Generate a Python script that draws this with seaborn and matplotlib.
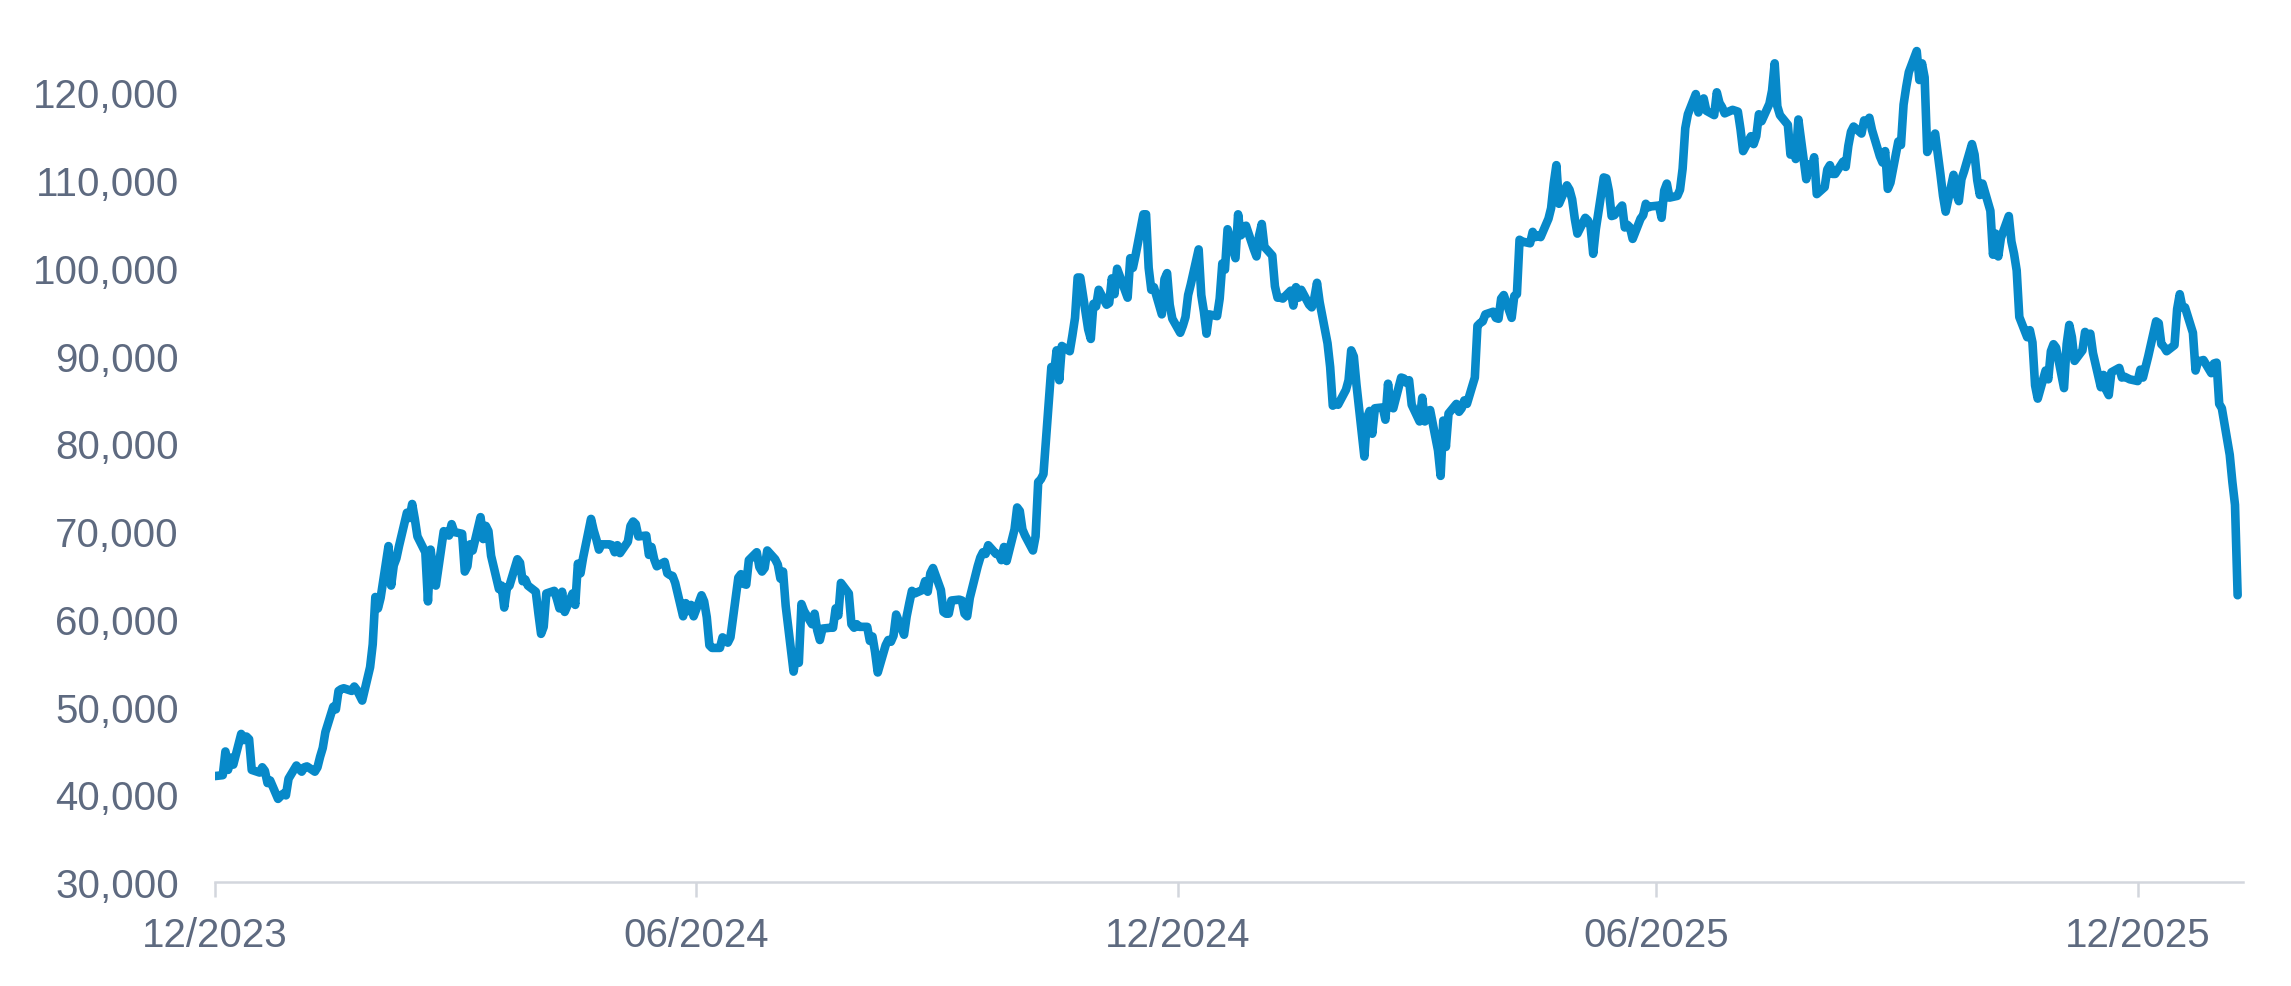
import pandas as pd
import matplotlib.pyplot as plt
import matplotlib.ticker as mticker
import seaborn as sns

# price series (USD)
dates = [
    '2023-12-29',
    '2024-01-01', '2024-01-02', '2024-01-03', '2024-01-04', '2024-01-05', '2024-01-08', '2024-01-09', '2024-01-10',
    '2024-01-11', '2024-01-12', '2024-01-15', '2024-01-16', '2024-01-17', '2024-01-18', '2024-01-19', '2024-01-22',
    '2024-01-23', '2024-01-24', '2024-01-25', '2024-01-26', '2024-01-29', '2024-01-30', '2024-01-31', '2024-02-01',
    '2024-02-02', '2024-02-05', '2024-02-06', '2024-02-07', '2024-02-08', '2024-02-09', '2024-02-12', '2024-02-13',
    '2024-02-14', '2024-02-15', '2024-02-16', '2024-02-19', '2024-02-20', '2024-02-21', '2024-02-22', '2024-02-23',
    '2024-02-26', '2024-02-27', '2024-02-28', '2024-02-29', '2024-03-01', '2024-03-04', '2024-03-05', '2024-03-06',
    '2024-03-07', '2024-03-08', '2024-03-11', '2024-03-12', '2024-03-13', '2024-03-14', '2024-03-15', '2024-03-18',
    '2024-03-19', '2024-03-20', '2024-03-21', '2024-03-22', '2024-03-25', '2024-03-26', '2024-03-27', '2024-03-28',
    '2024-03-29', '2024-04-01', '2024-04-02', '2024-04-03', '2024-04-04', '2024-04-05', '2024-04-08', '2024-04-09',
    '2024-04-10', '2024-04-11', '2024-04-12', '2024-04-15', '2024-04-16', '2024-04-17', '2024-04-18', '2024-04-19',
    '2024-04-22', '2024-04-23', '2024-04-24', '2024-04-25', '2024-04-26', '2024-04-29', '2024-04-30', '2024-05-01',
    '2024-05-02', '2024-05-03', '2024-05-06', '2024-05-07', '2024-05-08', '2024-05-09', '2024-05-10', '2024-05-13',
    '2024-05-14', '2024-05-15', '2024-05-16', '2024-05-17', '2024-05-20', '2024-05-21', '2024-05-22', '2024-05-23',
    '2024-05-24', '2024-05-27', '2024-05-28', '2024-05-29', '2024-05-30', '2024-05-31', '2024-06-03', '2024-06-04',
    '2024-06-05', '2024-06-06', '2024-06-07', '2024-06-10', '2024-06-11', '2024-06-12', '2024-06-13', '2024-06-14',
    '2024-06-17', '2024-06-18', '2024-06-19', '2024-06-20', '2024-06-21', '2024-06-24', '2024-06-25', '2024-06-26',
    '2024-06-27', '2024-06-28', '2024-07-01', '2024-07-02', '2024-07-03', '2024-07-04', '2024-07-05', '2024-07-08',
    '2024-07-09', '2024-07-10', '2024-07-11', '2024-07-12', '2024-07-15', '2024-07-16', '2024-07-17', '2024-07-18',
    '2024-07-19', '2024-07-22', '2024-07-23', '2024-07-24', '2024-07-25', '2024-07-26', '2024-07-29', '2024-07-30',
    '2024-07-31', '2024-08-01', '2024-08-02', '2024-08-05', '2024-08-06', '2024-08-07', '2024-08-08', '2024-08-09',
    '2024-08-12', '2024-08-13', '2024-08-14', '2024-08-15', '2024-08-16', '2024-08-19', '2024-08-20', '2024-08-21',
    '2024-08-22', '2024-08-23', '2024-08-26', '2024-08-27', '2024-08-28', '2024-08-29', '2024-08-30', '2024-09-02',
    '2024-09-03', '2024-09-04', '2024-09-05', '2024-09-06', '2024-09-09', '2024-09-10', '2024-09-11', '2024-09-12',
    '2024-09-13', '2024-09-16', '2024-09-17', '2024-09-18', '2024-09-19', '2024-09-20', '2024-09-23', '2024-09-24',
    '2024-09-25', '2024-09-26', '2024-09-27', '2024-09-30', '2024-10-01', '2024-10-02', '2024-10-03', '2024-10-04',
    '2024-10-07', '2024-10-08', '2024-10-09', '2024-10-10', '2024-10-11', '2024-10-14', '2024-10-15', '2024-10-16',
    '2024-10-17', '2024-10-18', '2024-10-21', '2024-10-22', '2024-10-23', '2024-10-24', '2024-10-25', '2024-10-28',
    '2024-10-29', '2024-10-30', '2024-10-31', '2024-11-01', '2024-11-04', '2024-11-05', '2024-11-06', '2024-11-07',
    '2024-11-08', '2024-11-11', '2024-11-12', '2024-11-13', '2024-11-14', '2024-11-15', '2024-11-18', '2024-11-19',
    '2024-11-20', '2024-11-21', '2024-11-22', '2024-11-25', '2024-11-26', '2024-11-27', '2024-11-28', '2024-11-29',
    '2024-12-02', '2024-12-03', '2024-12-04', '2024-12-05', '2024-12-06', '2024-12-09', '2024-12-10', '2024-12-11',
    '2024-12-12', '2024-12-13', '2024-12-16', '2024-12-17', '2024-12-18', '2024-12-19', '2024-12-20', '2024-12-23',
    '2024-12-24', '2024-12-25', '2024-12-26', '2024-12-27', '2024-12-30', '2024-12-31', '2025-01-01', '2025-01-02',
    '2025-01-03', '2025-01-06', '2025-01-07', '2025-01-08', '2025-01-09', '2025-01-10', '2025-01-13', '2025-01-14',
    '2025-01-15', '2025-01-16', '2025-01-17', '2025-01-20', '2025-01-21', '2025-01-22', '2025-01-23', '2025-01-24',
    '2025-01-27', '2025-01-28', '2025-01-29', '2025-01-30', '2025-01-31', '2025-02-03', '2025-02-04', '2025-02-05',
    '2025-02-06', '2025-02-07', '2025-02-10', '2025-02-11', '2025-02-12', '2025-02-13', '2025-02-14', '2025-02-17',
    '2025-02-18', '2025-02-19', '2025-02-20', '2025-02-21', '2025-02-24', '2025-02-25', '2025-02-26', '2025-02-27',
    '2025-02-28', '2025-03-03', '2025-03-04', '2025-03-05', '2025-03-06', '2025-03-07', '2025-03-10', '2025-03-11',
    '2025-03-12', '2025-03-13', '2025-03-14', '2025-03-17', '2025-03-18', '2025-03-19', '2025-03-20', '2025-03-21',
    '2025-03-24', '2025-03-25', '2025-03-26', '2025-03-27', '2025-03-28', '2025-03-31', '2025-04-01', '2025-04-02',
    '2025-04-03', '2025-04-04', '2025-04-07', '2025-04-08', '2025-04-09', '2025-04-10', '2025-04-11', '2025-04-14',
    '2025-04-15', '2025-04-16', '2025-04-17', '2025-04-18', '2025-04-21', '2025-04-22', '2025-04-23', '2025-04-24',
    '2025-04-25', '2025-04-28', '2025-04-29', '2025-04-30', '2025-05-01', '2025-05-02', '2025-05-05', '2025-05-06',
    '2025-05-07', '2025-05-08', '2025-05-09', '2025-05-12', '2025-05-13', '2025-05-14', '2025-05-15', '2025-05-16',
    '2025-05-19', '2025-05-20', '2025-05-21', '2025-05-22', '2025-05-23', '2025-05-26', '2025-05-27', '2025-05-28',
    '2025-05-29', '2025-05-30', '2025-06-02', '2025-06-03', '2025-06-04', '2025-06-05', '2025-06-06', '2025-06-09',
    '2025-06-10', '2025-06-11', '2025-06-12', '2025-06-13', '2025-06-16', '2025-06-17', '2025-06-18', '2025-06-19',
    '2025-06-20', '2025-06-23', '2025-06-24', '2025-06-25', '2025-06-26', '2025-06-27', '2025-06-30', '2025-07-01',
    '2025-07-02', '2025-07-03', '2025-07-04', '2025-07-07', '2025-07-08', '2025-07-09', '2025-07-10', '2025-07-11',
    '2025-07-14', '2025-07-15', '2025-07-16', '2025-07-17', '2025-07-18', '2025-07-21', '2025-07-22', '2025-07-23',
    '2025-07-24', '2025-07-25', '2025-07-28', '2025-07-29', '2025-07-30', '2025-07-31', '2025-08-01', '2025-08-04',
    '2025-08-05', '2025-08-06', '2025-08-07', '2025-08-08', '2025-08-11', '2025-08-12', '2025-08-13', '2025-08-14',
    '2025-08-15', '2025-08-18', '2025-08-19', '2025-08-20', '2025-08-21', '2025-08-22', '2025-08-25', '2025-08-26',
    '2025-08-27', '2025-08-28', '2025-08-29', '2025-09-01', '2025-09-02', '2025-09-03', '2025-09-04', '2025-09-05',
    '2025-09-08', '2025-09-09', '2025-09-10', '2025-09-11', '2025-09-12', '2025-09-15', '2025-09-16', '2025-09-17',
    '2025-09-18', '2025-09-19', '2025-09-22', '2025-09-23', '2025-09-24', '2025-09-25', '2025-09-26', '2025-09-29',
    '2025-09-30', '2025-10-01', '2025-10-02', '2025-10-03', '2025-10-06', '2025-10-07', '2025-10-08', '2025-10-09',
    '2025-10-10', '2025-10-13', '2025-10-14', '2025-10-15', '2025-10-16', '2025-10-17', '2025-10-20', '2025-10-21',
    '2025-10-22', '2025-10-23', '2025-10-24', '2025-10-27', '2025-10-28', '2025-10-29', '2025-10-30', '2025-10-31',
    '2025-11-03', '2025-11-04', '2025-11-05', '2025-11-06', '2025-11-07', '2025-11-10', '2025-11-11', '2025-11-12',
    '2025-11-13', '2025-11-14', '2025-11-17', '2025-11-18', '2025-11-19', '2025-11-20', '2025-11-21', '2025-11-24',
    '2025-11-25', '2025-11-26', '2025-11-27', '2025-11-28', '2025-12-01', '2025-12-02', '2025-12-03', '2025-12-04',
    '2025-12-05', '2025-12-08', '2025-12-09', '2025-12-10', '2025-12-11', '2025-12-12', '2025-12-15', '2025-12-16',
    '2025-12-17', '2025-12-18', '2025-12-19', '2025-12-22', '2025-12-23', '2025-12-24', '2025-12-26', '2025-12-29',
    '2025-12-30', '2025-12-31', '2026-01-02', '2026-01-05', '2026-01-06', '2026-01-07', '2026-01-08', '2026-01-09',
    '2026-01-12', '2026-01-13', '2026-01-14', '2026-01-15', '2026-01-16', '2026-01-19', '2026-01-20', '2026-01-21',
    '2026-01-22', '2026-01-23', '2026-01-26', '2026-01-27', '2026-01-28', '2026-01-29', '2026-01-30', '2026-02-02',
    '2026-02-03', '2026-02-04', '2026-02-05',
]

prices = [
    42100,
    42200, 44900, 42800, 44200, 43400, 46900, 46200, 46600, 46300, 42800, 42500, 43100, 42700, 41300, 41600, 39500,
    39800, 40100, 39900, 41800, 43300, 42900, 42600, 43100, 43200, 42600, 43100, 44300, 45300, 47100, 50000, 49700,
    51800, 52000, 52100, 51800, 52300, 51900, 51300, 50700, 54500, 57100, 62500, 61200, 62400, 68300, 63800, 66100,
    66900, 68300, 72100, 71500, 73100, 71400, 69400, 67600, 62000, 67900, 65500, 63800, 70000, 69900, 69500, 70800,
    69900, 69700, 65400, 66000, 68500, 67800, 71600, 69100, 70600, 70000, 67200, 63400, 63800, 61300, 63500, 63800,
    66800, 66400, 64300, 64500, 63800, 63100, 60600, 58300, 59100, 62900, 63200, 62300, 61200, 63100, 60800, 62900,
    61600, 66300, 65200, 67000, 71400, 70100, 69100, 67900, 68500, 68500, 68400, 67600, 68400, 67500, 68800, 70600,
    71100, 70800, 69400, 69500, 67300, 68200, 66800, 66000, 66500, 65200, 65000, 64900, 64100, 60300, 61800, 60900,
    61600, 60300, 62700, 62000, 60200, 57000, 56700, 56700, 57900, 57700, 57300, 57900, 64700, 65100, 64000, 63900,
    66700, 67600, 65900, 65400, 65800, 67800, 66800, 66200, 64600, 65400, 61500, 54000, 56000, 55000, 61700, 60900,
    59400, 60600, 58700, 57600, 58900, 59000, 59000, 61200, 60400, 64100, 62900, 59400, 59000, 59400, 59100, 59100,
    57500, 58000, 56200, 53900, 57000, 57600, 57400, 58100, 60500, 58200, 60300, 61800, 63200, 62900, 63300, 64300,
    63100, 65200, 65800, 63300, 60800, 60600, 60600, 62100, 62200, 62100, 60600, 60300, 62400, 66000, 67000, 67600,
    67400, 68400, 67400, 67400, 66700, 68200, 66600, 70200, 72700, 72300, 70200, 69500, 67800, 69400, 75600, 75900,
    76500, 88700, 87900, 90600, 87200, 91100, 90500, 92300, 94300, 98900, 98900, 93000, 91900, 95900, 95600, 97500,
    95800, 96000, 98800, 97000, 99900, 97400, 96600, 101100, 100000, 101400, 106100, 106100, 100000, 97500, 97800, 94700,
    98700, 99400, 95800, 94200, 92600, 93400, 94400, 96900, 98100, 102100, 96900, 95000, 92500, 94700, 94500, 96500,
    100500, 99800, 104400, 101100, 106100, 103700, 104000, 104800, 102100, 101300, 103700, 105000, 102400, 101400, 97900, 96600,
    96600, 96500, 97400, 95700, 97800, 96600, 97500, 95800, 95500, 96600, 98300, 96100, 91400, 88700, 84300, 84700,
    84400, 86100, 87200, 90600, 89900, 86700, 78500, 82900, 83700, 81100, 84000, 84100, 82700, 86800, 84200, 84000,
    87500, 87400, 86900, 87200, 84400, 82500, 85200, 82500, 83100, 83800, 79200, 76300, 82600, 79600, 83400, 84500,
    83600, 84000, 84900, 84500, 87500, 93400, 93700, 93900, 94700, 95000, 94300, 94200, 96500, 96900, 94300, 96800,
    97000, 103200, 103000, 102800, 104100, 103500, 103700, 103500, 105600, 106800, 109600, 111700, 107300, 109400, 108900, 107800,
    105600, 103900, 105700, 105400, 104700, 101600, 104400, 110300, 110200, 108700, 105900, 106000, 107100, 104600, 104900, 104600,
    103300, 105600, 106000, 107300, 106900, 107000, 107100, 105700, 108800, 109600, 108000, 108200, 108900, 111300, 115900, 117500,
    119800, 117700, 118600, 119300, 117900, 117400, 120000, 118800, 118300, 117600, 118000, 117900, 117800, 115800, 113300, 115000,
    114100, 115000, 117500, 116700, 118700, 120200, 123300, 118400, 117400, 116300, 112900, 114300, 112400, 116900, 110100, 111800,
    111200, 112600, 108400, 109200, 111200, 111700, 110700, 110700, 112100, 111500, 113900, 115500, 116100, 115300, 116800, 116500,
    117100, 115700, 112700, 112000, 113300, 109000, 109700, 114400, 114000, 118600, 120600, 122300, 124700, 121400, 123300, 121700,
    113200, 115300, 113000, 110700, 108200, 106400, 110600, 108500, 107600, 110100, 111000, 114100, 112900, 110000, 108300, 109600,
    106500, 101500, 103900, 101300, 103400, 105900, 103000, 101600, 99700, 94400, 92100, 92900, 91500, 86600, 85100, 88300,
    87300, 90500, 91300, 90900, 86300, 91300, 93500, 92100, 89400, 90600, 92700, 92000, 92500, 90300, 86400, 87800,
    86100, 85500, 88100, 88600, 87500, 87600, 87300, 87100, 88400, 87500, 89900, 93900, 93700, 91300, 91000, 90500,
    91200, 95300, 97000, 95500, 95500, 92600, 88300, 89400, 89400, 89500, 88000, 89100, 89200, 84500, 84000, 78700,
    75600, 73000, 62700,
]

tick_dates = ['2023-12-29', '2024-06-29', '2024-12-29', '2025-06-29', '2025-12-29']
tick_labels = ['12/2023', '06/2024', '12/2024', '06/2025', '12/2025']
y_ticks = [30000, 40000, 50000, 60000, 70000, 80000, 90000, 100000, 110000, 120000]

df = pd.DataFrame({'date': pd.to_datetime(dates), 'price': prices})

sns.set_theme(style='white')
plt.rcParams['font.family'] = ['Liberation Sans', 'DejaVu Sans']

label_color = '#5E6A80'
axis_color = '#D3D6DD'

fig = plt.figure(figsize=(22.91, 9.87), dpi=100)
ax = fig.add_axes([0.0938, 0.1051, 0.8852, 0.8893])

sns.lineplot(data=df, x='date', y='price', ax=ax, color='#0789C9', linewidth=6.2,
             solid_joinstyle='round', solid_capstyle='round')

ax.set_xlim(pd.Timestamp('2023-12-29'), pd.Timestamp('2026-02-07'))
ax.set_ylim(30000, 130000)
ax.set_xticks(pd.to_datetime(tick_dates))
ax.set_xticklabels(tick_labels)
ax.set_yticks(y_ticks)
ax.yaxis.set_major_formatter(mticker.FuncFormatter(lambda v, p: f'{v:,.0f}'))
ax.set_xlabel('')
ax.set_ylabel('')

for side in ['left', 'top', 'right']:
    ax.spines[side].set_visible(False)
ax.spines['bottom'].set_color(axis_color)
ax.spines['bottom'].set_linewidth(1.8)

ax.tick_params(axis='x', direction='out', length=11, width=1.8, color=axis_color,
               labelsize=29, labelcolor=label_color, pad=13, bottom=True)
ax.tick_params(axis='y', length=0, labelsize=29, labelcolor=label_color, pad=26)
ax.grid(False)

fig.savefig('out.png', dpi=100)
